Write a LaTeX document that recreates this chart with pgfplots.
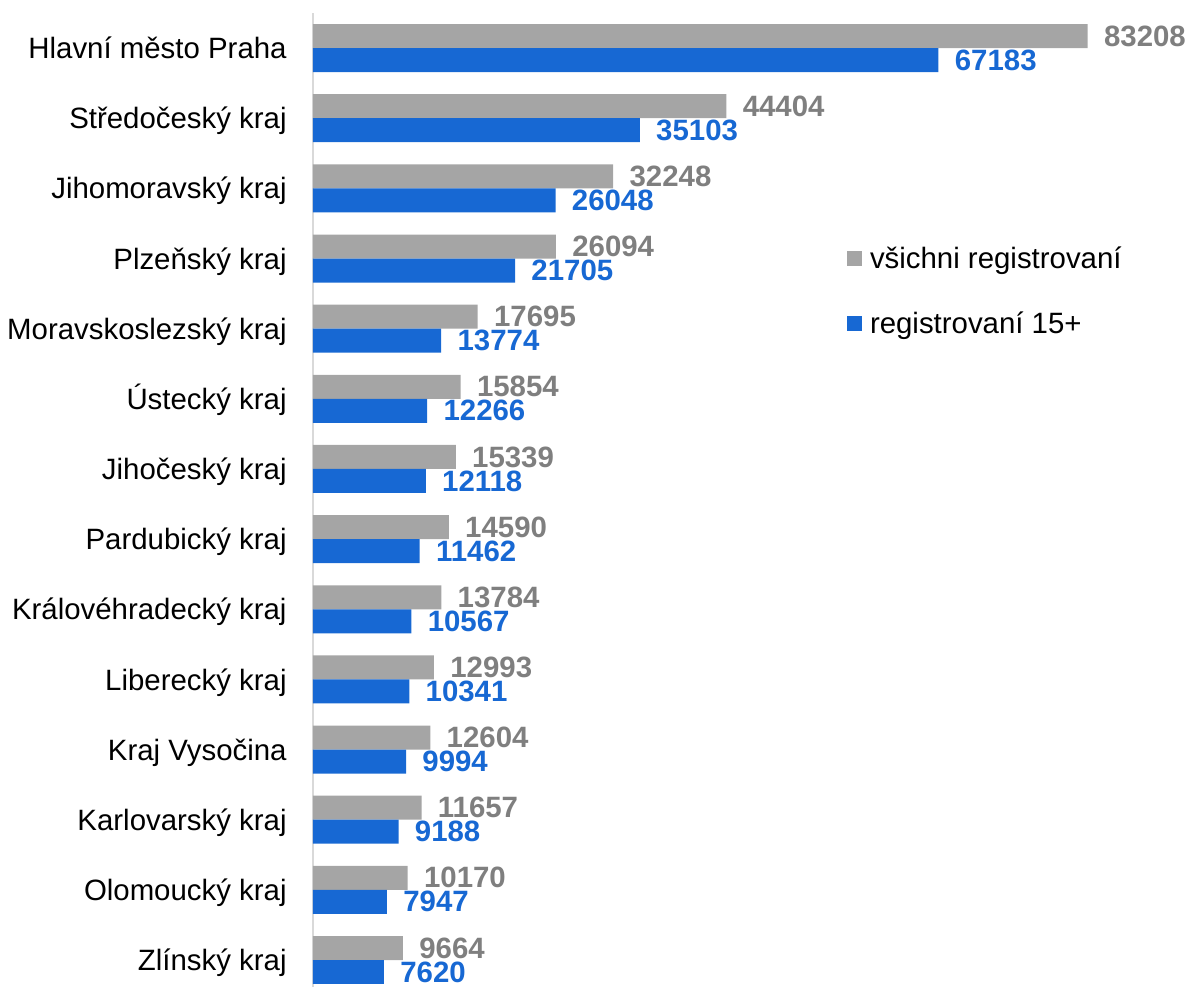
\documentclass[border=0pt]{standalone}
\usepackage{pgfplots}
\pgfplotsset{compat=1.18}
\usepackage{pgfplotstable}
\usepackage{fontspec}
\setmainfont{Liberation Sans}
\definecolor{bargray}{RGB}{165,165,165}
\definecolor{barblue}{RGB}{23,104,211}
\definecolor{labgray}{RGB}{127,127,127}
\definecolor{axgray}{RGB}{217,217,217}
\pgfplotstableread{
y all teen
13 83208 67183
12 44404 35103
11 32248 26048
10 26094 21705
9 17695 13774
8 15854 12266
7 15339 12118
6 14590 11462
5 13784 10567
4 12993 10341
3 12604 9994
2 11657 9188
1 10170 7947
0 9664 7620
}\datatable
\begin{document}
\begin{tikzpicture}
\path[use as bounding box] (-156.5pt,0) rectangle (437pt,493.5pt);
\begin{axis}[
  at={(0,0)}, anchor=south west,
  scale only axis,
  width=418.95pt, height=487pt,
  xmin=0, xmax=90000,
  ymin=-0.385, ymax=13.5,
  xbar, bar width=0.342,
  clip=false,
  axis x line=none,
  axis y line=left,
  y axis line style={-, draw=axgray, line width=1pt},
  major tick length=0pt,
  ytick style={draw=none},
  ytick={0,...,13},
  yticklabels={Zlínský kraj, Olomoucký kraj, Karlovarský kraj, Kraj Vysočina, Liberecký kraj, Královéhradecký kraj, Pardubický kraj, Jihočeský kraj, Ústecký kraj, Moravskoslezský kraj, Plzeňský kraj, Jihomoravský kraj, Středočeský kraj, Hlavní město Praha},
  yticklabel style={font=\fontsize{14.7pt}{17pt}\selectfont, inner sep=0pt, anchor=base east, xshift=-13pt, yshift=-5.3pt},
  /pgf/number format/1000 sep={},
  /pgf/number format/assume math mode=true,
  nodes near coords,
  nodes near coords style={font=\fontsize{14.7pt}{17pt}\selectfont\bfseries, inner sep=0pt, anchor=west, xshift=8pt},
  legend style={draw=none, fill=none, inner sep=0pt, outer sep=0pt,
    at={(rel axis cs:0.6373,0.7591)}, anchor=north west,
    font=\fontsize{14.7pt}{17pt}\selectfont,
    nodes={inner sep=0pt, text height=10.5pt, text depth=0pt},
    row sep=22pt, column sep=4pt},
  legend cell align=left,
  legend image code/.code={\path[#1, draw=none] (0pt,-3.75pt) rectangle (7.5pt,3.75pt);},
]
\addplot[fill=bargray, draw=none, bar shift=0.171,
  every node near coord/.append style={text=labgray}] table[x=all, y=y] {\datatable};
\addlegendentry{všichni registrovaní}
\addplot[fill=barblue, draw=none, bar shift=-0.171,
  every node near coord/.append style={text=barblue}] table[x=teen, y=y] {\datatable};
\addlegendentry{registrovaní 15+}
\end{axis}
\end{tikzpicture}
\end{document}
